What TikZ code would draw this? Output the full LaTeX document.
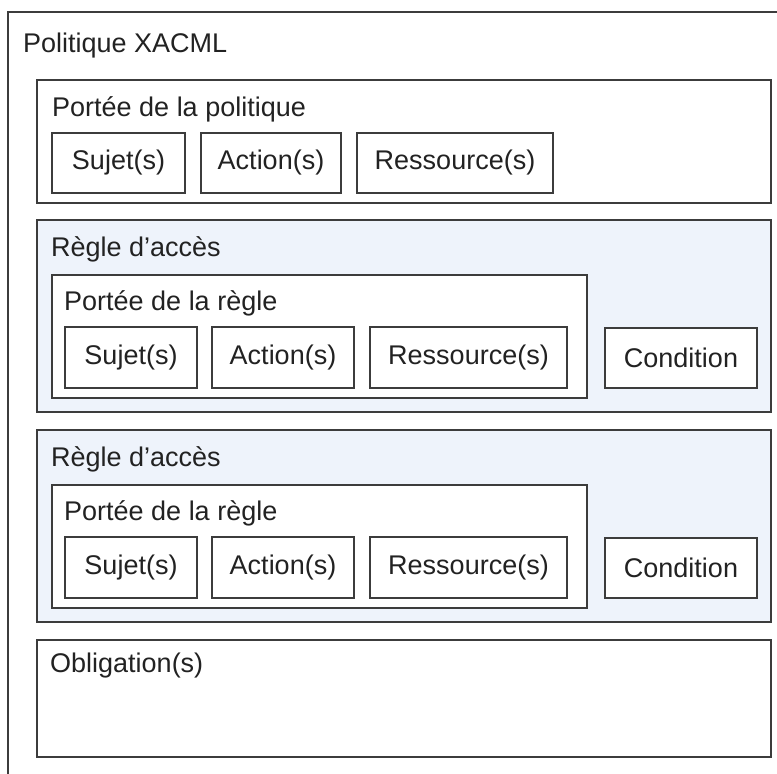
\documentclass[tikz,border=0pt]{standalone}
\usepackage{fontspec}
\setmainfont{Liberation Sans}
\definecolor{lineg}{HTML}{3C3C3C}
\definecolor{rulefill}{HTML}{EEF3FB}
\definecolor{txt}{HTML}{222222}
\begin{document}
\begin{tikzpicture}[x=1pt,y=-1pt,
  frame/.style={draw=lineg,line width=1.6pt,fill=white},
  rulebox/.style={draw=lineg,line width=1.6pt,fill=rulefill},
  item/.style={draw=lineg,line width=1.6pt,fill=white,text=txt,font=\fontsize{27}{31}\selectfont,inner sep=0pt},
  lbl/.style={anchor=base west,inner sep=0pt,text=txt,font=\fontsize{27}{31}\selectfont}]
\clip (0,0) rectangle (777,774);
\fill[white] (0,0) rectangle (777,774);
% outer frame
\draw[frame] (8,800) -- (8,12) -- (800,12);
\node[lbl] (tpol) at (23,52) {Politique XACML};
% politique scope
\draw[frame] (37,80) rectangle (771,203);
\node[lbl] (tscope) at (52,116) {Portée de la politique};
\node[item,minimum width=133,minimum height=60] (s0) at (118.5,163) {Sujet(s)};
\node[item,minimum width=140,minimum height=60] (a0) at (271,163) {Action(s)};
\node[item,minimum width=196,minimum height=60] (r0) at (455,163) {Ressource(s)};
% rule 1
\draw[rulebox] (37,220) rectangle (771,412);
\node[lbl] (trule1) at (51,256) {Règle d’accès};
\draw[frame] (52,275) rectangle (587,398);
\node[lbl] (tscope1) at (64,310) {Portée de la règle};
\node[item,minimum width=132,minimum height=61] (s1) at (131,357.5) {Sujet(s)};
\node[item,minimum width=142,minimum height=61] (a1) at (283,357.5) {Action(s)};
\node[item,minimum width=197,minimum height=61] (r1) at (468.5,357.5) {Ressource(s)};
\node[item,minimum width=152,minimum height=60] (c1) at (681,358) {Condition};
% rule 2
\draw[rulebox] (37,430) rectangle (771,622);
\node[lbl] (trule2) at (51,466) {Règle d’accès};
\draw[frame] (52,485) rectangle (587,608);
\node[lbl] (tscope2) at (64,520) {Portée de la règle};
\node[item,minimum width=132,minimum height=61] (s2) at (131,567.5) {Sujet(s)};
\node[item,minimum width=142,minimum height=61] (a2) at (283,567.5) {Action(s)};
\node[item,minimum width=197,minimum height=61] (r2) at (468.5,567.5) {Ressource(s)};
\node[item,minimum width=152,minimum height=60] (c2) at (681,568) {Condition};
% obligations
\draw[frame] (37,640) rectangle (771,757);
\node[lbl] (tobl) at (50,672) {Obligation(s)};
\end{tikzpicture}
\end{document}
